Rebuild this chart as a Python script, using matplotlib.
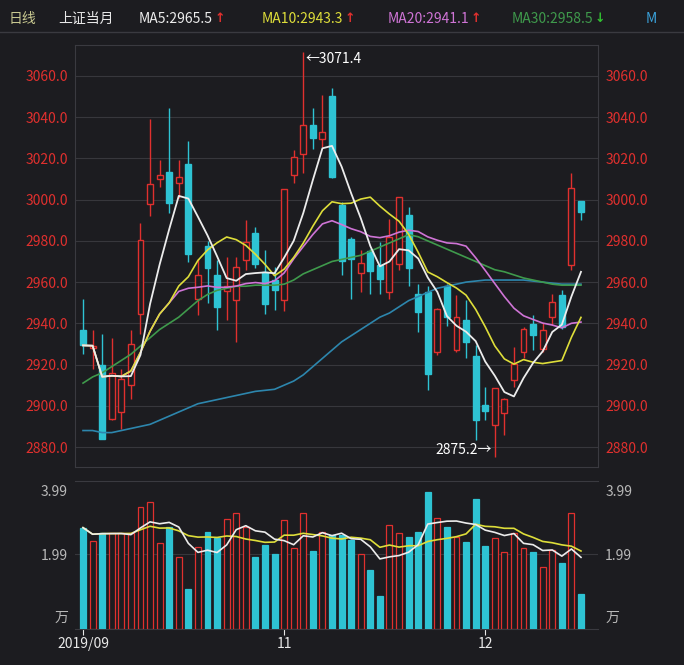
import numpy as np
import pandas as pd
import matplotlib
matplotlib.use("Agg")
import matplotlib.pyplot as plt

plt.rcParams['font.family'] = ['Noto Sans CJK SC', 'DejaVu Sans']

# daily OHLC
opens = [2936.6, 2928, 2919.6, 2893.7, 2896.9, 2910, 2944.7, 2997.7, 3010.2, 3013.2,
         3008, 3017.2, 2952, 2977.6, 2963.3, 2955.7, 2951.2, 2970.6, 2984, 2964.9,
         2960.9, 2951.2, 3011.9, 3022.1, 3036.2, 3029.4, 3050.4, 2997.3, 2980.8, 2964.6,
         2975, 2968.2, 2955.2, 2968.7, 2992.5, 2954.4, 2955, 2926, 2958.2, 2926.9,
         2941.5, 2924, 2900.2, 2890.5, 2896.4, 2912.3, 2926, 2939.8, 2927.7, 2943.1,
         2953.6, 2968.2, 2999.3]
highs = [2952, 2936.6, 2935, 2933, 2918, 2936.6, 2988.7, 3039, 3019.2, 3044.3,
         3019, 3028.6, 2971.4, 2980, 2970.6, 2972.2, 2972.2, 2990, 2986.8, 2975.5,
         2967.4, 3005.1, 3024, 3071.4, 3044.3, 3050.8, 3054, 2999, 2982, 2975.5,
         2976, 2979.5, 2990.8, 3001.4, 2996.5, 2959.2, 2958, 2947.5, 2959, 2953.6,
         2951.2, 2929.3, 2909, 2908.6, 2904, 2928.5, 2938, 2943.9, 2940, 2954,
         2956, 3012.7, 2999.3]
lows = [2925.3, 2918, 2884, 2892.9, 2888.8, 2903.4, 2935, 2992, 3006, 2993.3,
        3001, 2969.8, 2943.9, 2950, 2936.6, 2941.5, 2930.9, 2965.8, 2966.6, 2944.7,
        2946.3, 2946, 3007.9, 3012.7, 3024.4, 3025.7, 3010.3, 2963.3, 2952, 2955.2,
        2954.4, 2954.4, 2952, 2966, 2958, 2936, 2907.5, 2924.5, 2938.9, 2926.1,
        2923, 2883.2, 2893, 2875.2, 2885.6, 2909, 2923, 2926.9, 2926, 2939,
        2937.4, 2966, 2990]
closes = [2929.3, 2929, 2884, 2916, 2913, 2930, 2980.3, 3007.4, 3011.8, 2998.6,
          3011, 2973.8, 2963.3, 2966.6, 2947.9, 2958.1, 2967.4, 2979.5, 2969, 2949.6,
          2956, 3005.1, 3020.5, 3036.2, 3029.7, 3033, 3011, 2970.3, 2971.4, 2969.5,
          2965.3, 2961.7, 2982, 3001.4, 2966.6, 2945.5, 2915.6, 2947, 2943, 2943,
          2931, 2892.9, 2897.4, 2908.6, 2903.4, 2920.4, 2937.4, 2934.2, 2936.6, 2950.4,
          2938.2, 3005.7, 2994]
ma30 = [2911, 2914, 2916, 2919, 2922, 2925, 2929, 2933, 2937, 2940,
        2943, 2947, 2951, 2954, 2956, 2957, 2958, 2958, 2958.5, 2958.5,
        2958.5, 2959, 2961, 2964, 2966, 2968, 2970, 2971, 2972, 2973,
        2975, 2977, 2979, 2981, 2983, 2982, 2980, 2978, 2976, 2974,
        2972, 2970, 2968, 2966, 2965, 2963.5, 2962, 2961, 2960, 2959,
        2958.5, 2958.5, 2958.5]
ma60 = [2888, 2888, 2887, 2887, 2888, 2889, 2890, 2891, 2893, 2895,
        2897, 2899, 2901, 2902, 2903, 2904, 2905, 2906, 2907, 2907.5,
        2908, 2910, 2912, 2915, 2919, 2923, 2927, 2931, 2934, 2937,
        2940, 2943, 2945, 2948, 2951, 2953, 2955, 2957, 2958, 2959,
        2960, 2960.5, 2961, 2961, 2961, 2961, 2961, 2960.5, 2960, 2959.5,
        2959, 2959, 2959]
# volume in 万
volume = [2.70, 2.35, 2.57, 2.55, 2.55, 2.55, 3.24, 3.38, 2.30, 2.73,
          1.93, 1.07, 2.18, 2.59, 2.42, 2.94, 3.10, 2.71, 1.91, 2.24,
          2.01, 2.90, 2.17, 3.10, 2.08, 2.58, 2.50, 2.50, 2.37, 2.00,
          1.58, 0.89, 2.77, 2.55, 2.44, 2.58, 3.64, 2.97, 2.73, 2.46,
          2.31, 3.45, 2.22, 2.43, 2.04, 2.57, 2.15, 2.04, 1.66, 2.11,
          1.75, 3.10, 0.93]
price_ticks = [2880, 2900, 2920, 2940, 2960, 2980, 3000, 3020, 3040, 3060]
date_labels = {0: "2019/09", 21: "11", 42: "12"}

BG = "#1c1c20"
RED = "#e0302e"
CYAN = "#2ec3d3"
GRID = "#37373c"
cw, cy, cv, cg, cb = "#ececec", "#dede3a", "#cf74d6", "#3f9a4c", "#2d86ad"

o, h, l, c = map(np.array, (opens, highs, lows, closes))
x = np.arange(len(c))
up = c >= o
cs = pd.Series(c)
ma5 = cs.rolling(5, min_periods=1).mean()
ma10 = cs.rolling(10, min_periods=1).mean()
ma20 = cs.rolling(20, min_periods=1).mean()
vs = pd.Series(volume)
vma5 = vs.rolling(5, min_periods=1).mean()
vma10 = vs.rolling(10, min_periods=1).mean()

fig = plt.figure(figsize=(6.84, 6.65), dpi=100, facecolor=BG)
ax = fig.add_axes([0.1096, 0.2977, 0.765, 0.6346], facecolor=BG)
axv = fig.add_axes([0.1096, 0.054, 0.765, 0.2226], facecolor=BG)

# header
hy = 0.972
fig.text(0.012, hy, "日线", color="#c8c890", fontsize=10, va="center")
fig.text(0.085, hy, "上证当月", color="#e8e8e8", fontsize=10, va="center")
renderer = fig.canvas.get_renderer()
for xp, txt, col, arr, acol in [(0.203, "MA5:2965.5", cw, "↑", RED),
                                 (0.383, "MA10:2943.3", cy, "↑", RED),
                                 (0.567, "MA20:2941.1", cv, "↑", RED),
                                 (0.748, "MA30:2958.5", cg, "↓", "#30c030")]:
    t = fig.text(xp, hy, txt, color=col, fontsize=10, va="center")
    bb = t.get_window_extent(renderer).transformed(fig.transFigure.inverted())
    fig.text(bb.x1 + 0.002, hy, arr, color=acol, fontsize=9, va="center",
             fontweight="bold", family="DejaVu Sans")
fig.text(0.944, hy, "M", color="#3aa0d8", fontsize=10, va="center")
fig.add_artist(plt.Line2D([0, 1], [0.952, 0.952], color="#3a3a40", lw=1))

# candles
ax.vlines(x, l, h, color=np.where(up, RED, CYAN), lw=1, zorder=2)
ax.bar(x, np.maximum(np.abs(c - o), 0.6), bottom=np.minimum(o, c), width=0.62,
       color=np.where(up, BG, CYAN), edgecolor=np.where(up, RED, CYAN), lw=1, zorder=3)
ax.plot(x, ma60, color=cb, lw=1.2, zorder=4)
ax.plot(x, ma30, color=cg, lw=1.2, zorder=4)
ax.plot(x, ma20, color=cv, lw=1.2, zorder=4)
ax.plot(x, ma10, color=cy, lw=1.2, zorder=4)
ax.plot(x, ma5, color=cw, lw=1.3, zorder=5)

imax, imin = int(np.argmax(h)), int(np.argmin(l))
ax.text(imax + 0.2, h[imax], "←" + f"{h[imax]:.1f}", color="white", fontsize=10, va="top")
ax.text(imin - 0.3, l[imin], f"{l[imin]:.1f}" + "→", color="white", fontsize=10,
        va="bottom", ha="right")

ax.set_xlim(-0.84, 53.8)
ax.set_ylim(2870.3, 3075)
ax.set_yticks(price_ticks)
ax.set_yticklabels([f"{t:.1f}" for t in price_ticks], color=RED, fontsize=10)
ax.tick_params(axis="y", length=0, pad=5, labelright=True)
ax.set_xticks([])
ax.grid(axis="y", color=GRID, lw=0.8)
for s in ax.spines.values():
    s.set_color("#3a3a40")

# volume panel
axv.bar(x, volume, width=0.62, color=np.where(up, BG, CYAN),
        edgecolor=np.where(up, RED, CYAN), lw=0.9, zorder=3)
axv.plot(x, vma10, color=cy, lw=1.2, zorder=4)
axv.plot(x, vma5, color=cw, lw=1.2, zorder=5)
axv.set_xlim(-0.84, 53.8)
axv.set_ylim(0, 3.94)
axv.set_yticks([0.35, 1.99, 3.7])
axv.set_yticklabels(["万", "1.99", "3.99"], color="#b8b8b8", fontsize=10)
axv.tick_params(axis="y", length=0, pad=5, labelright=True)
axv.axhline(1.99, color=GRID, lw=0.8, zorder=1)
axv.set_xticks(list(date_labels.keys()))
axv.set_xticklabels(list(date_labels.values()), color="#e8e8e8", fontsize=10)
axv.tick_params(axis="x", length=4, color="#e8e8e8", pad=2)
for s in axv.spines.values():
    s.set_color("#3a3a40")
axv.spines["left"].set_visible(False)
axv.spines["right"].set_visible(False)

fig.savefig("out.png", dpi=100, facecolor=BG)
